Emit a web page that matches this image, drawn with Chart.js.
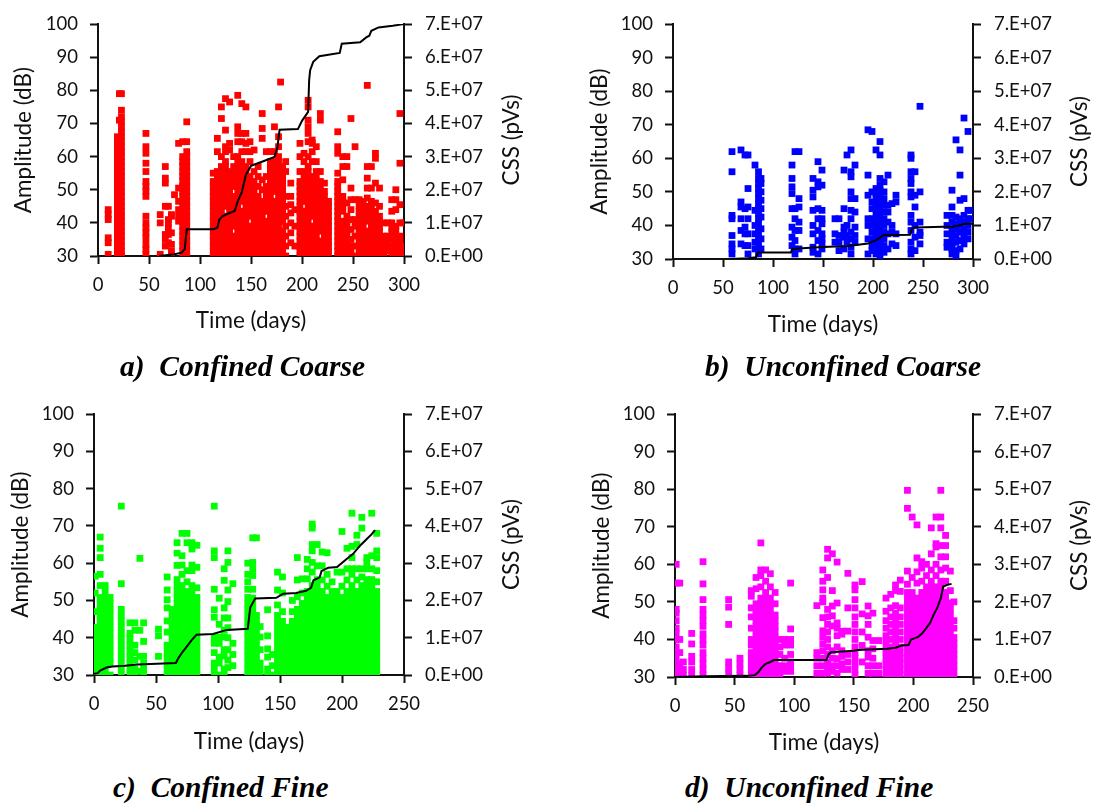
<!DOCTYPE html>
<html>
<head>
<meta charset="utf-8">
<script src="https://cdn.jsdelivr.net/npm/chart.js@4.4.1/dist/chart.umd.min.js"></script>
<style>
  body { margin: 0; background: #fff; }
  #page { position: relative; width: 1094px; height: 804px; overflow: hidden; background: #fff; }
  #page canvas { position: absolute; }
  .cap {
    position: absolute; white-space: pre; color: #000;
    font-family: "Liberation Serif", "Times New Roman", serif;
    font-weight: bold; font-style: italic; font-size: 29.5px; line-height: 29px;
  }
</style>
</head>
<body>
<div id="page">
  <canvas id="chA" width="548" height="370" style="left:0;top:0"></canvas>
  <canvas id="chB" width="546" height="370" style="left:548px;top:0"></canvas>
  <canvas id="chC" width="548" height="370" style="left:0;top:390px"></canvas>
  <canvas id="chD" width="546" height="370" style="left:548px;top:390px"></canvas>
  <div class="cap" style="left:120px;top:352px">a)  Confined Coarse</div>
  <div class="cap" style="left:705px;top:352px">b)  Unconfined Coarse</div>
  <div class="cap" style="left:113px;top:773px">c)  Confined Fine</div>
  <div class="cap" style="left:685px;top:773px">d)  Unconfined Fine</div>
</div>
<script>
/* Four AE-hit panels: amplitude squares (left axis) + cumulative CSS line (right axis).
   Scatter rows are [day, amp, amp, ...]; CSS rows are [day, value in 1e7 pVs]. */

// ---- a) Confined Coarse ----
const aHits = [
  [10, 30.5, 34, 35.5, 41, 42.5, 44],
  [19, 30, 31.5, 33, 34.5, 36, 37.5, 39, 40.5, 42, 43.5, 45, 46.5, 48, 49.5, 51, 52.5, 54, 55.5, 57, 58.5, 60, 61.5, 63, 64.5, 66],
  [21, 63, 71, 79],
  [23, 30, 31.5, 33, 34.5, 36, 37.5, 39, 40.5, 42, 43.5, 45, 46.5, 48, 49.5, 51, 52.5, 54, 55.5, 57, 58.5, 60, 61.5, 63, 64.5, 66, 67.5, 69, 70.5, 72, 74, 79],
  [47, 30.5, 32, 33.5, 35.5, 37, 38.5, 40, 42, 48, 49.5, 51, 52.5, 55.5, 58, 61, 63, 67],
  [61, 30.5, 40, 42.5],
  [66, 33, 35, 36.5, 45, 52, 53.5, 57],
  [69, 34, 36.5, 38.5, 40, 41, 45],
  [72, 30.5, 31.5, 33.5, 37, 42, 42.5],
  [75, 48.5],
  [79, 40.5, 42, 44, 46.5, 50.5, 64],
  [83, 30, 31.5, 33, 34.5, 36, 37.5, 39, 40.5, 42, 43.5, 45, 46.5, 48, 49.5, 51, 52.5, 54, 55.5, 57, 58.5, 60, 64.5],
  [87, 30, 31.5, 33, 34.5, 36, 37.5, 39, 40.5, 42, 43.5, 45, 46.5, 48, 49.5, 51, 52.5, 54, 55.5, 57, 58.5, 60, 61.5, 64.5, 70.5],
  [113, 30, 31.5, 33, 34.5, 36, 37.5, 39, 40.5, 42, 43.5, 45, 46.5, 48, 49.5, 51, 52.5, 55],
  [117, 30, 31.5, 33, 34.5, 36, 37.5, 39, 40.5, 42, 43.5, 45, 46.5, 48, 49.5, 51, 52.5, 54, 55.5, 61.5, 65.5],
  [121, 30, 31.5, 33, 34.5, 36, 37.5, 39, 40.5, 42, 43.5, 45, 46.5, 48, 49.5, 51, 52.5, 54, 55.5, 57, 60, 71.5, 75],
  [125, 30, 31.5, 33, 34.5, 36, 37.5, 39, 40.5, 42, 45, 46.5, 48, 49.5, 51, 52.5, 54, 55.5, 57, 58.5, 61.5, 63, 68, 77.5],
  [129, 30, 31.5, 33, 34.5, 36, 37.5, 39, 40.5, 42, 43.5, 45, 46.5, 48, 49.5, 51, 52.5, 54, 55.5, 62, 64, 76.5],
  [133, 30, 31.5, 33, 34.5, 36, 39, 40.5, 42, 43.5, 45, 46.5, 48, 51, 52.5, 54, 55.5, 57, 60],
  [137, 30, 31.5, 33, 34.5, 36, 37.5, 39, 40.5, 42, 43.5, 45, 46.5, 48, 49.5, 51, 52.5, 54, 55.5, 57, 58.5, 60, 64.5, 67, 69, 78.5],
  [141, 30, 31.5, 33, 34.5, 36, 37.5, 39, 40.5, 42, 43.5, 46.5, 48, 49.5, 51, 52.5, 54, 55.5, 57, 58.5, 61.5, 64.5, 67, 76],
  [145, 30, 31.5, 33, 34.5, 36, 37.5, 39, 40.5, 42, 43.5, 45, 46.5, 48, 49.5, 51, 52.5, 54, 55.5, 57, 61.5, 64, 67, 75],
  [149, 30, 31.5, 33, 34.5, 36, 37.5, 39, 42, 43.5, 45, 46.5, 48, 49.5, 51, 52.5, 54, 58.5, 61.5, 64.5],
  [153, 30, 31.5, 33, 34.5, 36, 37.5, 39, 40.5, 42, 43.5, 45, 46.5, 48, 49.5, 51, 52.5, 55.5, 62],
  [157, 30, 31.5, 33, 34.5, 36, 37.5, 39, 40.5, 42, 43.5, 45, 46.5, 48, 51, 54, 57],
  [161, 30, 31.5, 33, 34.5, 36, 37.5, 39, 40.5, 42, 43.5, 45, 46.5, 50, 53, 65.5, 68.5, 73],
  [165, 30, 31.5, 33, 34.5, 36, 37.5, 39, 40.5, 43.5, 45, 46.5, 48, 49.5, 51, 54, 61.5],
  [169, 30, 31.5, 33, 34.5, 36, 37.5, 39, 40.5, 42, 43.5, 45, 46.5, 48, 49.5, 51, 52.5, 54, 55.5, 57, 58.5, 61.5],
  [173, 30, 31.5, 33, 34.5, 36, 37.5, 39, 40.5, 42, 43.5, 45, 46.5, 49.5, 51, 52.5, 54, 55.5, 57, 58.5, 61.5, 69],
  [177, 30, 31.5, 33, 34.5, 36, 37.5, 39, 40.5, 42, 43.5, 45, 46.5, 48, 49.5, 51, 52.5, 54, 55.5, 57, 58.5, 60, 63, 66, 75],
  [179, 82.5],
  [181, 30, 31.5, 33, 34.5, 36, 37.5, 40.5, 42, 43.5, 45, 46.5, 48, 49.5, 51, 52.5, 54, 55.5, 57],
  [184, 30, 33, 36, 39, 42, 45, 48, 55.5, 58.5],
  [189, 34, 37, 40, 43, 45.5, 48, 52],
  [193, 33, 39, 44],
  [198, 30, 31.5, 33, 34.5, 36, 37.5, 39, 40.5, 42, 43.5, 45, 46.5, 48, 49.5, 51, 52.5, 55.5, 60, 64],
  [202, 30, 31.5, 33, 34.5, 36, 37.5, 39, 40.5, 42, 43.5, 46.5, 48, 49.5, 51, 52.5, 54, 55.5, 58.5, 61],
  [206, 30, 31.5, 33, 34.5, 36, 37.5, 39, 40.5, 42, 43.5, 45, 46.5, 48, 49.5, 51, 52.5, 54, 55.5, 57, 60, 64.5, 67, 69, 71, 75, 77],
  [210, 30, 31.5, 33, 34.5, 36, 37.5, 39, 42, 43.5, 45, 46.5, 48, 49.5, 51, 52.5, 54, 58.5, 61.5, 64, 65],
  [214, 30, 31.5, 33, 34.5, 36, 37.5, 39, 40.5, 42, 43.5, 45, 46.5, 48, 49.5, 51, 52.5, 54, 55.5, 58.5, 63],
  [218, 30, 31.5, 33, 34.5, 37.5, 39, 40.5, 42, 43.5, 45, 46.5, 48, 49.5, 51, 52.5, 55.5, 71, 73],
  [222, 30, 31.5, 33, 34.5, 36, 37.5, 39, 40.5, 42, 43.5, 45, 46.5, 48, 49.5, 52],
  [226, 30, 31.5, 33, 34.5, 36, 37.5, 39, 40.5, 42, 43.5, 45, 46.5],
  [235, 30, 31.5, 33, 34.5, 36, 37.5, 39, 40.5, 42, 43.5, 45, 46.5, 48, 49.5, 51, 52.5, 55, 61, 63, 67.5],
  [240, 30, 31.5, 33, 34.5, 36, 37.5, 39, 40.5, 43.5, 45, 46.5, 48, 53, 57, 60],
  [244, 30, 31.5, 33, 34.5, 36, 37.5, 39, 40.5, 42, 46, 57, 60],
  [248, 30, 31.5, 33, 35, 38, 41, 44, 47, 50.5, 71.5],
  [252, 30, 33, 36, 39, 41, 47, 63],
  [256, 30, 31.5, 33, 34.5, 36, 37.5, 39, 40.5, 42, 43.5, 45, 47],
  [260, 30, 31.5, 33, 34.5, 36, 37.5, 39, 40.5, 42, 43.5, 45, 46.5],
  [264, 30, 31.5, 33, 34.5, 36, 37.5, 40.5, 42, 43.5, 45, 47.5, 50.5, 53.5, 57, 81.5],
  [268, 30, 31.5, 33, 34.5, 36, 37.5, 39, 40.5, 42, 43.5, 45, 46.5, 50.5, 57],
  [272, 30, 31.5, 33, 34.5, 36, 37.5, 39, 40.5, 42, 43.5, 46, 52, 59.5, 61],
  [276, 30, 31.5, 33, 34.5, 36, 37.5, 39, 40.5, 42, 45, 50.5],
  [280, 30, 31.5, 33, 34.5, 36, 40],
  [284, 31.5, 33, 34.5, 36, 40],
  [288, 30, 31.5, 33, 35, 37, 38.5, 40, 43.5, 47],
  [292, 30, 31.5, 33, 34.5, 36, 37.5, 39, 44, 47, 50],
  [296, 30, 31.5, 33, 34.5, 36, 40, 45.5, 58, 73],
  [299, 30, 31.5, 33, 40]
];
const aCss = [[60, 0], [75, 0.05], [82, 0.1], [85, 0.2], [86, 0.5], [87, 0.81], [113, 0.81], [117, 0.85], [119, 1.1],
  [122, 1.2], [126, 1.26], [134, 1.36], [137, 1.65], [141, 1.93], [145, 2.45], [150, 2.72], [162, 2.86], [173, 2.99],
  [176, 3.3], [178, 3.81], [196, 3.83], [200, 4.08], [206, 4.35], [207, 5.3], [208, 5.61], [211, 5.86], [217, 6.03],
  [237, 6.13], [239, 6.41], [257, 6.45], [263, 6.6], [266, 6.65], [268, 6.8], [275, 6.9], [289, 6.95], [300, 7.0]];

// ---- b) Unconfined Coarse ----
const bHits = [
  [59, 31.5, 33, 34.5, 37, 42, 43, 56, 62],
  [68, 34.5, 38.5, 42, 45.5, 47, 62.5],
  [72, 34, 37.5, 39.5, 45, 61],
  [75, 31.5, 34, 37.5, 42, 45.5, 51, 61],
  [82, 33, 35, 37.5, 40, 44.5, 58],
  [85.5, 31.5, 33, 34.5, 36, 37.5, 39, 40.5, 42, 43.5, 45, 46.5, 48, 49.5, 51, 52.5, 54, 56],
  [88, 33, 36, 39, 42.5, 45, 47.5, 50, 52.5, 54],
  [119, 34, 36.5, 39.5, 45, 49.5, 51.5, 54, 58],
  [122, 31.5, 33, 35.5, 38.5, 42, 45, 62],
  [126, 33, 38.5, 41, 45.5, 48, 62],
  [140, 32, 33.5, 37.5, 40, 44.5, 48.5, 50.5, 54],
  [145, 31.5, 35.5, 38.5, 42, 45, 51.5, 53, 59],
  [149, 33, 34.5, 36, 37.5, 40.5, 42, 44.5, 52, 56.5],
  [162, 35, 37.5, 42],
  [166, 32.5, 35, 37, 42],
  [171, 33, 36.5, 38, 39.5, 45, 56.5],
  [174, 35, 37, 40, 61],
  [178, 31.5, 33.5, 36, 38, 42, 44.5, 48, 50, 54.5, 56, 62.5],
  [182, 35, 37, 39.5, 44, 48, 58],
  [195, 31.5, 36, 40, 42, 49, 55, 68.5],
  [199, 32.5, 34, 36, 38, 40, 42, 45, 47, 50, 68],
  [203, 31.5, 33, 34.5, 36, 37.5, 39, 40.5, 42, 43.5, 45, 46.5, 48, 49.5, 51, 62.5],
  [207, 31, 32.5, 34, 35.5, 37, 38.5, 40, 41.5, 43, 44.5, 46, 47.5, 49, 50.5, 52, 54, 61, 65],
  [211, 32, 34, 36, 38, 40, 42, 44, 46, 48, 50, 53],
  [215, 33, 37.5, 41, 44, 46, 55],
  [219, 34.5, 38, 40, 46.5],
  [223, 34, 37.5, 47, 49],
  [238, 31.5, 33, 35, 38.5, 41, 43, 48.5, 50, 52.5, 54, 56, 60, 61],
  [242, 32.5, 36.5, 40, 45.5, 49, 56],
  [247, 34.5, 37, 38, 41, 50, 75.5],
  [274, 33.5, 35, 37.5, 40, 43],
  [279, 31.5, 33, 34.5, 36, 37.5, 39, 41, 43, 45.5, 50.5],
  [283, 31, 32.5, 35, 37, 39, 40.5, 42.5, 65.5],
  [287, 33, 35.5, 38, 40, 42, 47.5, 55, 62.5],
  [291, 34.5, 36, 37.5, 39, 41, 43, 48, 72],
  [295, 36, 38, 40, 42, 44.5, 68],
  [298, 42, 44.5]
];
const bCss = [[57, 0], [75, 0.02], [83, 0.05], [85, 0.19], [118, 0.19], [119, 0.29], [125, 0.31], [150, 0.36],
  [175, 0.39], [195, 0.46], [203, 0.56], [206, 0.62], [210, 0.71], [237, 0.72], [239, 0.9], [242, 0.94],
  [280, 0.97], [286, 1.0], [292, 1.05], [300, 1.05]];

// ---- c) Confined Fine ----
const cHits = [
  [1, 30, 31.6, 33.2, 34.8, 36.4, 38, 39.6, 41.2, 42.8, 47, 52, 56.5],
  [5, 30, 31.6, 33.2, 34.8, 36.4, 38, 39.6, 41.2, 42.8, 44.4, 46, 47.6, 49.2, 50.8, 54, 57, 61.5, 64, 67],
  [9, 30, 31.6, 33.2, 34.8, 36.4, 38, 39.6, 41.2, 42.8, 44.4, 46, 47.6, 49.2, 50.8, 52.4, 54],
  [13, 30, 33.2, 34.8, 36.4, 38, 39.6, 41.2, 42.8, 44.4, 46, 47.6, 49.2, 50.8],
  [22, 30, 31.6, 33.2, 34.8, 36.4, 38, 39.6, 41.2, 42.8, 44.4, 46, 47.6, 54.5, 75.3],
  [29, 30, 31.6, 33.2, 34.8, 36.4, 38, 39.6, 41.2, 44],
  [33, 30, 31.6, 34, 36, 38, 42, 44],
  [37, 31, 35, 42, 61.3],
  [40, 30, 31.6, 33.2, 35, 39, 44],
  [52, 35, 40.5, 42.3],
  [59, 30, 31.6, 33.2, 34.8, 36.4, 38, 41.5, 44.5, 48, 50.2, 52.8, 56.3],
  [63, 30, 31.6, 33.2, 34.8, 36.4, 38, 39.6, 41.2, 42.8, 44.4, 46, 47.6],
  [67, 30, 31.6, 33.2, 34.8, 36.4, 38, 39.6, 41.2, 42.8, 44.4, 46, 47.6, 49.2, 50.8, 52.4, 54, 55.6, 59.4, 62.7, 65.5],
  [71, 30, 31.6, 33.2, 34.8, 36.4, 38, 39.6, 41.2, 42.8, 44.4, 46, 47.6, 49.2, 50.8, 52.4, 54, 57, 59.5, 62, 68],
  [75, 30, 31.6, 33.2, 34.8, 36.4, 38, 39.6, 41.2, 42.8, 44.4, 46, 47.6, 49.2, 50.8, 52.4, 55, 58, 65.5, 68],
  [79, 30, 31.6, 33.2, 34.8, 36.4, 38, 39.6, 41.2, 42.8, 44.4, 46, 47.6, 49.2, 50.8, 52.4, 54, 58, 59.5, 63.8, 65.5],
  [83, 30, 31.6, 33.2, 34.8, 36.4, 38, 39.6, 41.2, 42.8, 44.4, 46, 47.6, 49.2, 50.8, 53.4, 58.9, 64.8],
  [97, 30, 31.6, 33.2, 36, 38.5, 40.2, 45.5, 47.5, 53, 61.5, 63.3, 75.3],
  [101, 30, 33.2, 34.8, 38.5, 40.2, 43.6, 50.6],
  [105, 30, 31.6, 35.1, 36.8, 40.2, 42, 45.3, 48, 55.4, 58.5],
  [108, 32, 34, 36.8, 40, 42.7, 45.3, 49.7, 52.8, 60.2, 63.3],
  [112, 32.5, 35.5, 38.5, 54.5],
  [124, 30, 31.6, 33.2, 34.8, 36.4, 38, 39.6, 41.2, 42.8, 44.4, 46, 47.6, 49.2, 50.8, 53, 55, 57, 60],
  [128, 30, 31.6, 33.2, 34.8, 36.4, 38, 39.6, 41.2, 42.8, 44.4, 46, 47.6, 49.2, 50.6, 53, 56.7, 58.5, 60.2, 66.8],
  [131, 30, 31.6, 33.2, 34.8, 36.4, 38, 39.6, 41.2, 42.8, 44.4, 46, 66.8],
  [134, 30, 31.6, 33.2, 36.8, 40.2, 43],
  [140, 30, 31.6, 34.8, 37, 40.5, 47.5],
  [144, 30, 32.5, 35.5],
  [148, 30, 31.6, 33.2, 34.8, 36.4, 38, 39.6, 41.2, 42.8, 44.4, 46, 48.8, 52.8, 57.6],
  [152, 30, 31.6, 33.2, 34.8, 36.4, 38, 39.6, 41.2, 42.8, 44.4, 47, 52, 56.3],
  [156, 30, 31.6, 33.2, 34.8, 36.4, 38, 39.6, 41.2, 42.8],
  [160, 30, 31.6, 33.2, 34.8, 36.4, 38, 39.6, 41.2, 42.8, 44.4, 47, 50],
  [164, 30, 31.6, 33.2, 34.8, 36.4, 38, 39.6, 41.2, 42.8, 44.4, 46, 47.6, 51, 55.5, 61.5],
  [168, 30, 31.6, 33.2, 34.8, 36.4, 38, 39.6, 41.2, 42.8, 44.4, 46, 47.6, 49.2, 52, 55.8],
  [172, 30, 31.6, 33.2, 34.8, 36.4, 38, 39.6, 41.2, 42.8, 44.4, 46, 47.6, 49.2, 50.8, 52.4, 55.8, 58.5, 61],
  [176, 30, 31.6, 33.2, 34.8, 36.4, 38, 39.6, 41.2, 42.8, 44.4, 46, 47.6, 49.2, 50.8, 52.4, 54, 57.6, 60.2, 63.3, 65, 69.4, 70.5],
  [180, 30, 31.6, 33.2, 34.8, 36.4, 38, 39.6, 41.2, 42.8, 44.4, 46, 47.6, 49.2, 50.8, 52.4, 54, 55.6, 59.3, 65],
  [184, 30, 31.6, 33.2, 34.8, 36.4, 38, 39.6, 41.2, 42.8, 44.4, 46, 47.6, 49.2, 50.8, 52.4, 55.5, 59.3, 63],
  [188, 30, 31.6, 33.2, 34.8, 36.4, 38, 39.6, 41.2, 42.8, 44.4, 46, 47.6, 49.2, 50.8, 53.8, 57, 62.8],
  [192, 30, 31.6, 33.2, 34.8, 36.4, 38, 39.6, 41.2, 42.8, 44.4, 46, 47.6, 49.2, 50.8, 52.4, 55],
  [196, 30, 31.6, 33.2, 34.8, 36.4, 38, 39.6, 41.2, 42.8, 44.4, 46, 47.6, 49.2, 50.8, 52.4, 57.6],
  [200, 30, 31.6, 33.2, 34.8, 36.4, 38, 39.6, 41.2, 42.8, 44.4, 46, 47.6, 49.2, 50.8, 53.8, 57.6, 68.5],
  [204, 30, 31.6, 33.2, 34.8, 36.4, 38, 39.6, 41.2, 42.8, 44.4, 46, 47.6, 49.2, 50.8, 52.4, 55.5, 58.5, 64],
  [208, 30, 31.6, 33.2, 34.8, 36.4, 38, 39.6, 41.2, 42.8, 44.4, 46, 47.6, 49.2, 50.8, 52.4, 54, 57, 58.5, 61.5, 64.5, 73.4],
  [212, 30, 31.6, 33.2, 34.8, 36.4, 38, 39.6, 41.2, 42.8, 44.4, 46, 47.6, 49.2, 50.8, 52.4, 55.5, 58.5, 65, 67.5],
  [216, 30, 31.6, 33.2, 34.8, 36.4, 38, 39.6, 41.2, 42.8, 44.4, 46, 47.6, 49.2, 50.8, 52.4, 54, 56.3, 58.5, 69.4, 72.3],
  [220, 30, 31.6, 33.2, 34.8, 36.4, 38, 39.6, 41.2, 42.8, 44.4, 46, 47.6, 49.2, 50.8, 52.4, 54, 55.6, 58.5, 60.2, 61.5],
  [224, 30, 31.6, 33.2, 34.8, 36.4, 38, 39.6, 41.2, 42.8, 44.4, 46, 47.6, 49.2, 50.8, 52.4, 54, 55.6, 58.5, 62, 73.4],
  [228, 30, 31.6, 33.2, 34.8, 36.4, 38, 39.6, 41.2, 42.8, 44.4, 46, 47.6, 49.2, 50.8, 52.4, 55, 58, 61.5, 63.3, 68]
];
const cCss = [[0, 0.03], [3, 0.05], [5, 0.12], [10, 0.2], [15, 0.23], [25, 0.25], [35, 0.28], [66, 0.32], [68, 0.45],
  [71, 0.6], [74.5, 0.75], [78.6, 0.93], [82.6, 1.08], [96, 1.1], [107, 1.21], [124, 1.24], [126, 1.81], [130, 2.05],
  [147, 2.07], [152.6, 2.18], [163, 2.2], [171, 2.26], [175, 2.34], [177, 2.54], [182, 2.62], [183.5, 2.79],
  [189, 2.88], [196, 2.9], [204, 3.12], [209, 3.25], [214.5, 3.47], [220, 3.65], [224, 3.78], [226.6, 3.89]];

// ---- d) Unconfined Fine ----
const dHits = [
  [1, 30.5, 32, 33.5, 35, 36.5, 38, 40, 41.5, 43, 45, 47, 48, 55, 60],
  [4, 30.5, 32, 33.5, 36.5, 40, 55],
  [7, 30.5, 32, 34],
  [14, 30.5, 32, 34, 35.5, 38.8, 41.6],
  [23.5, 30.5, 32, 33.5, 35, 36.5, 38.5, 40, 41.5, 43.5, 45, 46.5, 48, 50.6, 54.8, 60.7],
  [45, 31, 32.5, 34, 44, 48.6, 50.6],
  [54.5, 30.5, 32, 33.5, 35],
  [64, 30.5, 32, 33.5, 35, 36.5, 38.5, 40, 43, 46, 48.4, 51.5, 53],
  [68, 30, 31.5, 33, 34.5, 36, 37.5, 39, 40.5, 42, 43.5, 45, 46.5, 48, 49.5, 53.5, 56.5],
  [72, 30, 31.5, 33, 34.5, 36, 37.5, 39, 40.5, 42, 43.5, 45, 46.5, 48, 49.5, 51, 54, 57, 58.5, 65.7],
  [76, 30, 31.5, 33, 34.5, 36, 37.5, 39, 40.5, 42, 43.5, 45, 46.5, 48, 49.5, 51, 52.5, 55.5, 58.5],
  [80, 30, 31.5, 33, 34.5, 36, 37.5, 39, 40.5, 42, 43.5, 45, 46.5, 48, 49.5, 51, 54, 57.5],
  [84, 30, 31.5, 33, 34.5, 36, 37.5, 39, 40.5, 42, 43.5, 45, 46.5, 49.5, 52.5],
  [88, 30, 31.5, 33, 36, 38, 40],
  [92, 31.5, 33, 35, 38.5, 40],
  [97, 31.5, 33, 34, 36, 38.5, 40, 42.8, 55],
  [119, 31, 33, 35, 36.5, 49],
  [124, 31, 33, 35, 37, 38.8, 40.6, 42.3, 45.8, 50, 51, 53.2, 55.5, 58.5],
  [128, 31, 32.5, 34, 36, 38, 40, 42, 44, 46, 48, 56.5, 61.7, 64],
  [132, 31.5, 33, 35, 37, 43.6, 46.3, 48.9, 53, 62.8],
  [136, 31, 33, 34.9, 38, 41, 43, 44.4, 49.7, 60.6],
  [140, 32, 33.5, 35.5, 37, 41.4, 42.2],
  [145, 32, 34, 36, 42.2, 48.4, 57.6],
  [151, 30.5, 32, 33.5, 35, 36.5, 38, 40, 42, 44, 46, 48.4, 50.6, 53.2, 54.5],
  [157, 34, 38.4, 42, 46.8, 55.4],
  [162, 31, 33, 35.3, 37, 40.6, 44, 46.3, 48.9],
  [166, 31, 33, 35, 37.5, 39.7, 47],
  [171, 31, 33, 39.7],
  [177, 30.5, 32, 33.5, 35, 36.5, 38, 39.5, 41, 43, 45, 47.5, 51],
  [181, 30.5, 32, 33.5, 35, 36.5, 38, 40, 42, 44, 46, 48.4, 52],
  [185, 30.5, 32, 33.5, 35, 36.5, 38, 39.5, 41, 42.5, 44, 45.5, 47, 49, 53, 54.5],
  [189, 30.5, 32, 33.5, 35, 36.5, 38, 40, 42, 44, 46, 48.4, 52.8, 55.8],
  [195, 30, 31.5, 33, 34.5, 36, 37.5, 39, 40.5, 42, 43.5, 45, 46.5, 48, 49.5, 51, 52.5, 54.7, 58.2, 74.9, 79.7],
  [199, 30, 31.5, 33, 34.5, 36, 37.5, 39, 40.5, 42, 43.5, 45, 46.5, 48, 49.5, 51, 52.5, 56.5, 72.6],
  [203, 30, 31.5, 33, 34.5, 36, 37.5, 39, 40.5, 42, 43.5, 45, 46.5, 48, 49.5, 51, 55, 58, 61.7, 70.5],
  [207, 30, 31.5, 33, 34.5, 36, 37.5, 39, 40.5, 42, 43.5, 45, 46.5, 48, 49.5, 51, 52.5, 55.5, 59, 60.7],
  [211, 30, 31.5, 33, 34.5, 36, 37.5, 39, 40.5, 42, 43.5, 45, 46.5, 48, 49.5, 51, 52.5, 54, 57, 60],
  [215, 30, 31.5, 33, 34.5, 36, 37.5, 39, 40.5, 42, 43.5, 45, 46.5, 48, 49.5, 51, 52.5, 54, 55.5, 58.5, 62.8, 69.7],
  [219, 30, 31.5, 33, 34.5, 36, 37.5, 39, 40.5, 42, 43.5, 45, 46.5, 48, 49.5, 51, 52.5, 54, 57, 60, 64.6, 65.5, 72.6],
  [223, 30, 31.5, 33, 34.5, 36, 37.5, 39, 40.5, 42, 43.5, 45, 46.5, 48, 49.5, 51, 52.5, 54, 55.5, 58.5, 62, 65, 69.7, 72.6, 79.7],
  [227, 30, 31.5, 33, 34.5, 36, 37.5, 39, 40.5, 42, 43.5, 45, 46.5, 48, 49.5, 51, 52.5, 55.5, 59, 62, 65, 67.7],
  [231, 30, 31.5, 33, 34.5, 36, 37.5, 39, 40.5, 42, 43.5, 45, 46.5, 48, 49.7, 53, 58.2],
  [234, 30, 31.5, 33, 34.5, 36, 37.5, 39, 40.5, 43, 45, 50]
];
const dCss = [[0, 0], [25, 0.02], [60, 0.03], [67, 0.05], [70, 0.13], [73, 0.26], [76, 0.35], [80, 0.4], [83, 0.45],
  [127, 0.45], [129, 0.61], [131, 0.66], [150, 0.7], [153, 0.72], [178, 0.75], [185, 0.78], [190, 0.84], [196, 0.85],
  [198, 1.0], [204, 1.07], [207, 1.15], [210, 1.27], [214, 1.44], [217, 1.66], [220, 1.84], [223, 2.1], [225, 2.41],
  [228, 2.45], [232, 2.48]];

const ink = '#111';
const tickFont = { family: 'Lato', size: 18.5 };
const titleFont = { family: 'Lato', size: 22.5 };

// Excel-style right axis title reads bottom-to-top, Chart.js would rotate it the other way
const rightTitlePlugin = {
    id: 'rightTitle',
    afterDraw(chart, args, opts) {
        const { ctx, chartArea } = chart;
        ctx.save();
        ctx.translate(opts.x, (chartArea.top + chartArea.bottom) / 2);
        ctx.rotate(-Math.PI / 2);
        ctx.font = '22.5px Lato';
        ctx.fillStyle = ink;
        ctx.textAlign = 'center';
        ctx.textBaseline = 'middle';
        ctx.fillText(opts.text, 0, 0);
        ctx.restore();
    }
};

function cssLabel(v) {
    return v === 0 ? '0.E+00' : v + '.E+07';
}

function edgeAxis() {
    return {
        border: { display: true, color: ink, width: 2 },
        grid: { drawOnChartArea: false, drawTicks: true, tickLength: 8, tickColor: ink, tickWidth: 2 }
    };
}

function makePanel(id, hits, css, color, dayMax, box) {
    const points = [];
    hits.forEach(row => row.slice(1).forEach(amp => points.push({ x: row[0], y: amp })));

    new Chart(document.getElementById(id), {
        type: 'scatter',
        data: {
            datasets: [
                {
                    data: css.map(p => ({ x: p[0], y: p[1] })),
                    yAxisID: 'y2',
                    showLine: true,
                    borderColor: '#000',
                    borderWidth: 2,
                    pointRadius: 0,
                    tension: 0,
                    order: 0
                },
                {
                    data: points,
                    yAxisID: 'y',
                    backgroundColor: color,
                    borderWidth: 0,
                    pointStyle: 'rect',
                    pointRadius: 4.8,
                    clip: 0,
                    order: 1
                }
            ]
        },
        options: {
            responsive: false,
            animation: false,
            events: [],
            layout: { padding: { top: box.top, left: 0, right: 0, bottom: 0 } },
            plugins: {
                legend: { display: false },
                tooltip: { enabled: false },
                rightTitle: { text: 'CSS (pVs)', x: box.cssX }
            },
            scales: {
                x: {
                    type: 'linear', min: 0, max: dayMax,
                    ...edgeAxis(),
                    ticks: { stepSize: 50, padding: 10, color: ink, font: tickFont, maxRotation: 0, autoSkip: false },
                    title: { display: true, text: 'Time (days)', color: ink, font: titleFont, padding: { top: 0, bottom: box.titleB } },
                    afterFit(s) { s.height = box.xH; }
                },
                y: {
                    position: 'left', min: 30, max: 100,
                    ...edgeAxis(),
                    ticks: { stepSize: 10, padding: 12, color: ink, font: tickFont },
                    title: { display: true, text: 'Amplitude (dB)', color: ink, font: titleFont, padding: { top: box.titleL, bottom: 0 } },
                    afterFit(s) { s.width = box.yW; }
                },
                y2: {
                    position: 'right', min: 0, max: 7,
                    ...edgeAxis(),
                    ticks: { stepSize: 1, padding: 13, color: ink, font: tickFont, callback: cssLabel },
                    afterFit(s) { s.width = box.y2W; }
                }
            }
        },
        plugins: [rightTitlePlugin]
    });
}

makePanel('chA', aHits, aCss, '#ff0000', 300, { top: 20, yW: 98, y2W: 144, xH: 114, titleL: 10.5, titleB: 35.5, cssX: 512 });
makePanel('chB', bHits, bCss, '#0000ff', 300, { top: 22, yW: 125, y2W: 121, xH: 111, titleL: 38.5, titleB: 31.5, cssX: 532 });
makePanel('chC', cHits, cCss, '#00ff00', 250, { top: 19, yW: 94, y2W: 144, xH: 85, titleL: 7.5, titleB: 4.5, cssX: 512 });
makePanel('chD', dHits, dCss, '#ff00ff', 250, { top: 20, yW: 127, y2W: 121, xH: 83, titleL: 40.5, titleB: 3.5, cssX: 532 });
</script>
</body>
</html>
